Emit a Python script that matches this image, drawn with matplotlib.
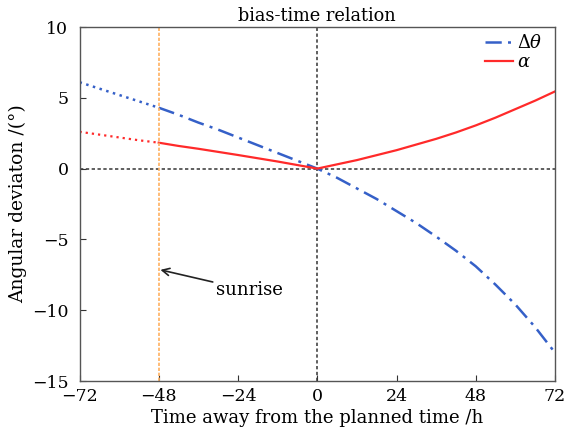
import matplotlib
matplotlib.use("Agg")
import matplotlib.pyplot as plt

plt.rcParams['font.family'] = ['DejaVu Serif']
plt.rcParams['mathtext.fontset'] = 'dejavuserif'

hours = [-72, -66, -60, -54, -48, -42, -36, -30, -24, -18, -12, -6, 0,
         6, 12, 18, 24, 30, 36, 42, 48, 54, 60, 66, 72]
dtheta = [6.1, 5.65, 5.2, 4.75, 4.3, 3.8, 3.25, 2.75, 2.2, 1.65, 1.1, 0.55, 0.0,
          -0.65, -1.4, -2.15, -3.0, -3.85, -4.8, -5.8, -6.9, -8.2, -9.6, -11.2, -13.0]
alpha = [2.6, 2.4, 2.2, 2.0, 1.83, 1.6, 1.4, 1.18, 0.96, 0.73, 0.5, 0.25, 0.0,
         0.3, 0.6, 0.95, 1.3, 1.7, 2.1, 2.55, 3.05, 3.6, 4.2, 4.8, 5.45]
xticks = [-72, -48, -24, 0, 24, 48, 72]
yticks = [-15, -10, -5, 0, 5, 10]
sunrise = -48

blue = '#3560c8'
red = '#ff2a2a'

fig = plt.figure(figsize=(5.67, 4.41), dpi=100)
ax = fig.add_axes([79.5/567, 1-381/441, (555-79.5)/567, (381-27)/441])

i0 = hours.index(sunrise)
ax.plot(hours[:i0+1], dtheta[:i0+1], color=blue, lw=1.8, ls=(0, (1, 1.8)))
ax.plot(hours[i0:], dtheta[i0:], color=blue, lw=1.8, ls=(0, (6.5, 2.5, 1.2, 2.5)), label=r'$\Delta\theta$')
ax.plot(hours[:i0+1], alpha[:i0+1], color=red, lw=1.6, ls=(0, (1, 1.8)))
ax.plot(hours[i0:], alpha[i0:], color=red, lw=1.6, label=r'$\alpha$')

ax.axvline(sunrise, color='#ffb060', lw=1.2, ls=(0, (2, 1)))
ax.axvline(0, color='#444444', lw=1.2, ls=(0, (2, 1.5)), zorder=0)
ax.axhline(0, color='#444444', lw=1.2, ls=(0, (2, 1.5)), zorder=0)

ax.annotate('sunrise', xy=(-47.5, -7.15), xytext=(-30.8, -8.6),
            fontsize=13, va='center', ha='left',
            arrowprops=dict(arrowstyle='->', color='#222222', lw=1.2, shrinkA=0, shrinkB=0))

ax.set_xlim(-72, 72)
ax.set_ylim(-15, 10)
ax.set_xticks(xticks)
ax.set_yticks(yticks)
ax.set_xticklabels([f'{t}'.replace('-', '\u2212') for t in xticks])
ax.set_yticklabels([f'{t}'.replace('-', '\u2212') for t in yticks])
ax.tick_params(direction='in', labelsize=12.5, length=4, color='#333333')
ax.tick_params(axis='y', pad=8)
ax.tick_params(axis='x', pad=5)
for s in ax.spines.values():
    s.set_color('#555555')
    s.set_linewidth(1.0)

ax.set_xlabel('Time away from the planned time /h', fontsize=13)
ax.xaxis.set_label_coords(0.5, -0.078)
ax.set_ylabel('Angular deviaton /(\u00b0)', fontsize=13.5)
ax.yaxis.set_label_coords(-0.11, 0.5)
ax.set_title('bias-time relation', fontsize=12.8, pad=4)

leg = ax.legend(loc='upper right', bbox_to_anchor=(0.989, 1.0), frameon=False,
                fontsize=13, handlelength=1.6, handletextpad=0.2,
                borderaxespad=0.0, labelspacing=0.05)

fig.savefig('out.png', dpi=100)
